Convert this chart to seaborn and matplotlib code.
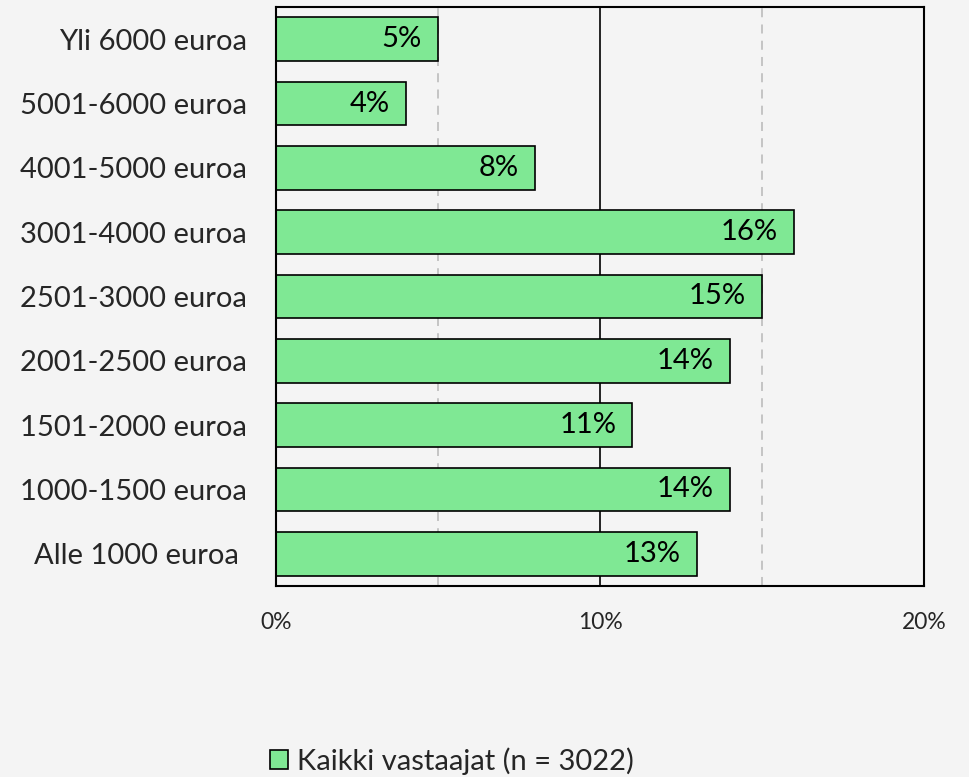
import matplotlib
matplotlib.use("Agg")
import matplotlib.pyplot as plt
import seaborn as sns
import pandas as pd
from matplotlib.patches import Patch

categories = ["Yli 6000 euroa", "5001-6000 euroa", "4001-5000 euroa", "3001-4000 euroa",
              "2501-3000 euroa", "2001-2500 euroa", "1501-2000 euroa", "1000-1500 euroa",
              "Alle 1000 euroa "]
values = [5, 4, 8, 16, 15, 14, 11, 14, 13]
series_name = "Kaikki vastaajat (n = 3022)"
x_ticks = [0, 10, 20]
x_tick_labels = ["0%", "10%", "20%"]

sns.set_theme(style="white")
plt.rcParams["font.family"] = ["Lato", "DejaVu Sans"]

bg = "#f4f4f4"
bar_color = "#7fe894"

df = pd.DataFrame({"cat": categories, "val": values})

fig = plt.figure(figsize=(9.69, 7.77), dpi=100, facecolor=bg)
ax = fig.add_axes([276/969, 1-586/777, (924-276)/969, (586-7)/777])
ax.set_facecolor(bg)

sns.barplot(data=df, x="val", y="cat", orient="h", color=bar_color,
            edgecolor="black", linewidth=1.2, width=0.68, ax=ax, saturation=1)

ax.set_xlim(0, 20)
ax.set_ylim(8.5, -0.5)
ax.set_xticks(x_ticks)
ax.set_xticklabels(x_tick_labels, fontsize=16.5)
ax.tick_params(axis="x", length=0, pad=19)
ax.tick_params(axis="y", length=0, pad=21, labelsize=21)
ax.set_xlabel("")
ax.set_ylabel("")

# gridlines
ax.axvline(10, color="black", lw=1.2, zorder=0)
for g in [5, 15]:
    ax.axvline(g, color="#c0c0c0", lw=1.3, ls=(0, (5, 4)), zorder=0)

for s in ax.spines.values():
    s.set_color("black")
    s.set_linewidth(1.5)
    s.set_visible(True)

for i, v in enumerate(values):
    ax.text(v - 0.5, i, f"{v}%", ha="right", va="center", fontsize=21, color="black")

handle = Patch(facecolor=bar_color, edgecolor="black", linewidth=1.2)
fig.legend([handle], [series_name], loc="center", bbox_to_anchor=(452/969, 1-761/777),
           frameon=False, fontsize=21, handlelength=0.62, handleheight=0.62,
           handletextpad=0.3)

fig.savefig("out.png", dpi=100, facecolor=bg)
